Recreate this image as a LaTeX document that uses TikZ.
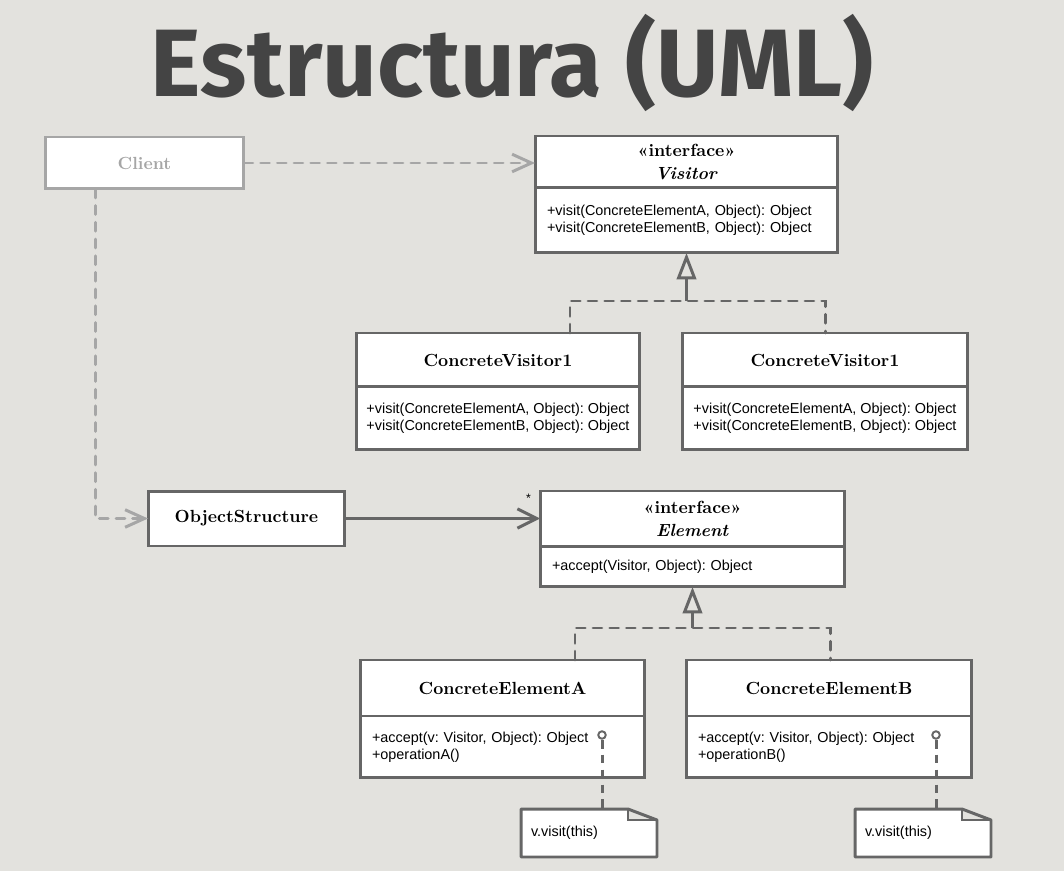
\documentclass[tikz,border=0pt]{standalone}
\usepackage{fontspec}
\usepackage{xcolor}
\usetikzlibrary{arrows.meta,positioning}
\newfontfamily\titlefont{Fira Sans}
\newfontfamily\methfont{Liberation Sans}
\frenchspacing
\definecolor{bgc}{HTML}{E3E2DE}
\definecolor{linec}{HTML}{666666}
\definecolor{clientc}{HTML}{A6A6A6}
\definecolor{titlec}{HTML}{444444}
\tikzset{
  head/.style={
    draw = linec,
    line width = 1.7pt,
    fill = white,
    inner sep = 0pt,
    outer sep = 0pt,
    align = center,
    font = \fontsize{10}{12.8}\selectfont\bfseries
  },
  body/.style={
    draw = linec,
    line width = 1.7pt,
    fill = white,
    inner xsep = 0.24cm,
    inner ysep = 0pt,
    outer sep = 0pt,
    align = left,
    font = \methfont\fontsize{8.2}{9.6}\selectfont
  },
  note/.style={
    fill = white,
    inner xsep = 0.2cm,
    outer sep = 0pt,
    align = left,
    text width = 2.32cm,
    minimum height = 0.96cm,
    font = \methfont\fontsize{8.2}{9.6}\selectfont
  },
  dot/.style={
    circle,
    draw = linec,
    line width = 1.1pt,
    fill = white,
    inner sep = 0pt,
    minimum size = 0.15cm
  },
  uses/.style={
    draw = clientc,
    line width = 1.7pt,
    line cap = round,
    dash pattern = on 5pt off 4.5pt,
    -{Straight Barb[length=11pt,width=10pt]}
  },
  assoc/.style={
    draw = linec,
    line width = 1.7pt,
    -{Straight Barb[length=11pt,width=11pt]}
  },
  realize/.style={
    draw = linec,
    line width = 1.7pt,
    line cap = round,
    dash pattern = on 5pt off 4.5pt
  },
  inherit/.style={
    draw = linec,
    line width = 1.7pt,
    -{Triangle[open,length=15pt,width=11pt]}
  },
  notelink/.style={
    draw = linec,
    line width = 1.7pt,
    dash pattern = on 5pt off 3.5pt
  }
}

\begin{document}
\begin{tikzpicture}[x=0.02cm, y=-0.02cm]
    \fill[bgc] (0,0) rectangle (1064,871);
    \useasboundingbox (0,0) rectangle (1064,871);

    \node[anchor=base, text=titlec, font=\titlefont\bfseries\fontsize{54.5}{60}\selectfont] (title) at (512.5,97) {Estructura (UML)};

    \node[head, draw=clientc, text=clientc, minimum width=3.98cm, minimum height=1.04cm] (client) at (144.5,163) {Client};

    \node[head, anchor=north, minimum width=6.06cm, minimum height=1.04cm] (visH) at (686.5,136) {«interface»\\\textit{Visitor}};
    \node[body, below=0pt of visH, text width=5.58cm, minimum height=1.3cm] (visB) {+visit(ConcreteElementA, Object): Object\\+visit(ConcreteElementB, Object): Object};

    \node[head, anchor=north, minimum width=5.68cm, minimum height=1.08cm] (cvAH) at (498,333) {ConcreteVisitor1};
    \node[body, below=0pt of cvAH, inner xsep=0.18cm, minimum width=5.68cm, minimum height=1.26cm] (cvAB) {+visit(ConcreteElementA, Object): Object\\+visit(ConcreteElementB, Object): Object};
    \node[head, anchor=north, minimum width=5.72cm, minimum height=1.08cm] (cvBH) at (825,333) {ConcreteVisitor1};
    \node[body, below=0pt of cvBH, inner xsep=0.18cm, minimum width=5.72cm, minimum height=1.26cm] (cvBB) {+visit(ConcreteElementA, Object): Object\\+visit(ConcreteElementB, Object): Object};

    \node[head, minimum width=3.94cm, minimum height=1.1cm] (objS) at (246.5,518.5) {ObjectStructure};

    \node[head, anchor=north, minimum width=6.1cm, minimum height=1.12cm] (elH) at (692.5,491) {«interface»\\\textit{Element}};
    \node[body, below=0pt of elH, text width=5.62cm, minimum height=0.8cm] (elB) {+accept(Visitor, Object): Object};
    \node[anchor=north east, inner sep=1pt, font=\methfont\fontsize{7}{8}\selectfont] (mult) at ([xshift=-0.14cm,yshift=-0.02cm]elH.north west) {*};

    \node[head, anchor=north, minimum width=5.7cm, minimum height=1.12cm] (ceAH) at (502.5,660) {ConcreteElementA};
    \node[body, below=0pt of ceAH, text width=5.22cm, minimum height=1.24cm] (ceAB) {+accept(v: Visitor, Object): Object\\+operationA()};
    \node[head, anchor=north, minimum width=5.72cm, minimum height=1.12cm] (ceBH) at (829,660) {ConcreteElementB};
    \node[body, below=0pt of ceBH, text width=5.24cm, minimum height=1.24cm] (ceBB) {+accept(v: Visitor, Object): Object\\+operationB()};

    \node[note] (noteA) at (589,833) {v.visit(this)};
    \node[note] (noteB) at (923,833) {v.visit(this)};
    \foreach \n in {noteA,noteB} {
        \fill[bgc] ([xshift=-0.58cm]\n.north east) rectangle ([yshift=-0.22cm]\n.north east);
        \draw[linec, line width=1.7pt, line join=round] (\n.south west) -- (\n.north west) -- ([xshift=-0.58cm]\n.north east) -- ([yshift=-0.22cm]\n.north east) -- (\n.south east) -- cycle;
        \draw[linec, line width=1pt] ([xshift=-0.58cm]\n.north east) -- ([xshift=-0.58cm,yshift=-0.22cm]\n.north east) -- ([yshift=-0.22cm]\n.north east);
    }

    \node[dot] (dotA) at (602,735) {};
    \node[dot] (dotB) at (936,735) {};
    \draw[notelink] (dotA.south) -- (dotA |- noteA.north);
    \draw[notelink] (dotB.south) -- (dotB |- noteB.north);

    \draw[uses] (client.east) -- (visH.west |- client.east);
    \draw[uses] ([xshift=-0.99cm]client.south) |- (objS.west);
    \draw[assoc] (objS.east) -- (elH.west |- objS.east);

    \draw[realize] ([xshift=1.44cm]cvAH.north) -- ++(0,-32) -| (cvBH.north);
    \draw[inherit] ([yshift=-0.96cm]visB.south) -- (visB.south);
    \draw[realize] ([xshift=1.45cm]ceAH.north) -- ++(0,-32) -| ([xshift=0.02cm]ceBH.north);
    \draw[inherit] ([yshift=-0.82cm]elB.south) -- (elB.south);
\end{tikzpicture}
\end{document}
